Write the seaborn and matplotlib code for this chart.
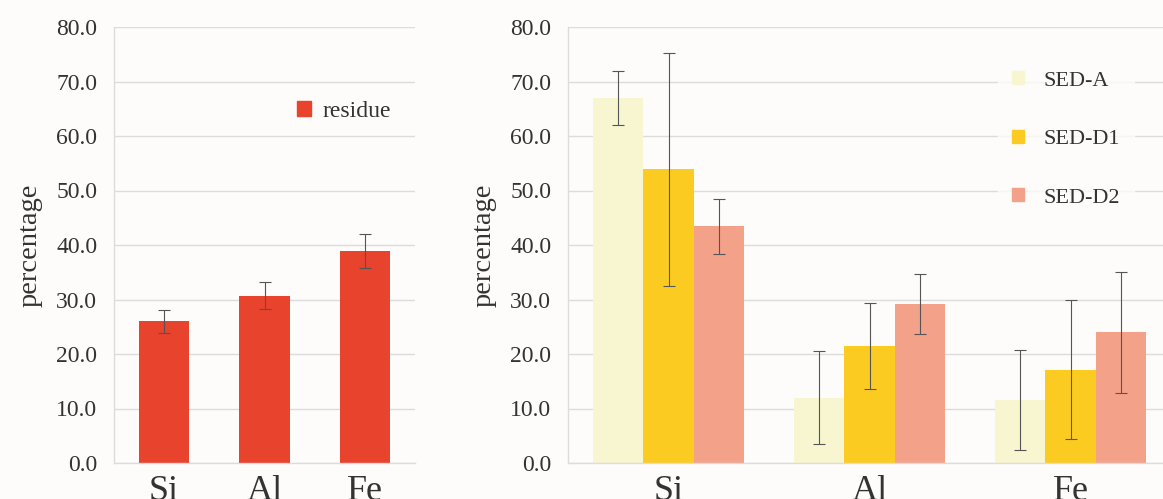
import numpy as np
import pandas as pd
import matplotlib
matplotlib.use('Agg')
import matplotlib.pyplot as plt
import seaborn as sns
from matplotlib.patches import Patch

# Data
elements = ['Si', 'Al', 'Fe']
residue = [26.0, 30.7, 38.9]
residue_err = [2.1, 2.5, 3.2]

samples = ['SED-A', 'SED-D1', 'SED-D2']
sed_a = [66.9, 12.0, 11.6]
sed_d1 = [53.9, 21.5, 17.1]
sed_d2 = [43.4, 29.2, 24.0]
sed_a_err = [4.95, 8.5, 9.15]
sed_d1_err = [21.4, 7.85, 12.75]
sed_d2_err = [5.05, 5.45, 11.1]

yticks = np.arange(0, 81, 10)

sns.set_style('white')
plt.rcParams['font.family'] = ['Liberation Serif', 'DejaVu Serif']

bg = '#fdfcfa'
grid_col = '#dcdcdc'
text_col = '#333333'
err_col = '#555555'

fig = plt.figure(figsize=(11.63, 4.99), dpi=100, facecolor=bg)
ax1 = fig.add_axes([114 / 1163, 1 - 463 / 499, 301 / 1163, 436 / 499])
ax2 = fig.add_axes([568 / 1163, 1 - 463 / 499, 603 / 1163, 436 / 499])


def style_axis(ax):
    ax.set_facecolor(bg)
    ax.set_ylim(0, 80)
    ax.set_yticks(yticks)
    ax.set_yticklabels([f'{t:.1f}' for t in yticks], fontsize=17, color=text_col)
    ax.grid(axis='y', color=grid_col, linewidth=1)
    ax.set_axisbelow(True)
    for s in ['top', 'right']:
        ax.spines[s].set_visible(False)
    for s in ['left', 'bottom']:
        ax.spines[s].set_color(grid_col)
        ax.spines[s].set_linewidth(1)
    n = len(elements)
    ax.set_xlim(-0.5, n - 0.5)
    ax.set_xticks(np.arange(n))
    ax.set_xticklabels(elements, fontsize=26, color=text_col)
    ax.set_xticks(np.arange(n) + 0.5, minor=True)
    ax.tick_params(axis='x', which='major', length=0, pad=9)
    ax.tick_params(axis='x', which='minor', length=8, color=grid_col, direction='out')
    ax.tick_params(axis='y', length=9, color=grid_col, direction='out', pad=3)
    ax.set_xlabel('')
    ax.set_ylabel('percentage', fontsize=20.5, color=text_col, labelpad=10)


def add_errors(ax, container, err):
    for bar, e in zip(container, err):
        cx = bar.get_x() + bar.get_width() / 2
        ax.errorbar(cx, bar.get_height(), yerr=e, fmt='none', ecolor=err_col,
                    elinewidth=0.8, capsize=4, capthick=0.8)


# Left panel: residue
df1 = pd.DataFrame({'element': elements, 'value': residue})
sns.barplot(data=df1, x='element', y='value', color='#e8432d', width=0.5,
            saturation=1, errorbar=None, linewidth=0, ax=ax1)
add_errors(ax1, ax1.containers[0], residue_err)
style_axis(ax1)
leg1 = ax1.legend(handles=[Patch(color='#e8432d', label='residue')],
                  loc='upper right', bbox_to_anchor=(1.0, 0.885), frameon=True,
                  fontsize=17, handlelength=0.6, handleheight=0.6, handletextpad=0.5,
                  borderpad=0.5)
leg1.get_frame().set_facecolor(bg)
leg1.get_frame().set_edgecolor(bg)
for t in leg1.get_texts():
    t.set_color(text_col)

# Right panel: SED samples
df2 = pd.DataFrame({
    'element': elements * 3,
    'sample': np.repeat(samples, 3),
    'value': sed_a + sed_d1 + sed_d2,
})
errs = [sed_a_err, sed_d1_err, sed_d2_err]
colors = ['#f7f6d0', '#fccb22', '#f4a18a']
sns.barplot(data=df2, x='element', y='value', hue='sample', hue_order=samples,
            palette=colors, saturation=1, width=0.75, errorbar=None,
            linewidth=0, legend=False, ax=ax2)
for cont, err in zip(ax2.containers, errs):
    add_errors(ax2, cont, err)
style_axis(ax2)
handles = [Patch(color=c, label=s) for c, s in zip(colors, samples)]
leg2 = ax2.legend(handles=handles, loc='upper left', bbox_to_anchor=(0.695, 0.955),
                  frameon=True, fontsize=16, handlelength=0.55, handleheight=0.55,
                  handletextpad=0.9, labelspacing=1.75, borderpad=0.6)
leg2.get_frame().set_facecolor(bg)
leg2.get_frame().set_edgecolor(bg)
for t in leg2.get_texts():
    t.set_color(text_col)

fig.savefig('out.png', dpi=100, facecolor=bg)
